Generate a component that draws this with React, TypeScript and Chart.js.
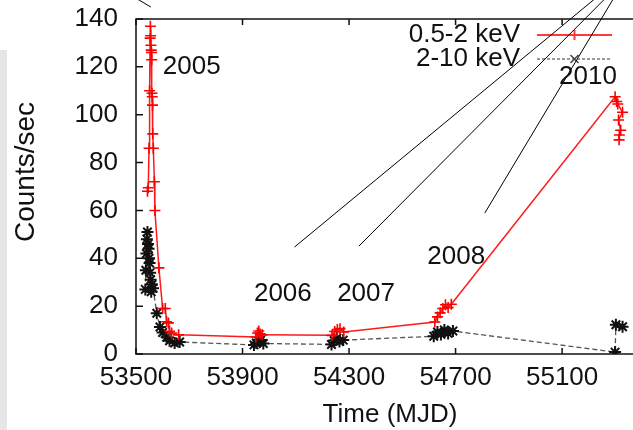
import { useEffect, useRef } from "react";
import { Chart, registerables } from "chart.js";

Chart.register(...registerables);

const FONT = "'Liberation Sans', Arial, Helvetica, sans-serif";
const FONT_SIZE = 26;
const INK = "#111111";

// 0.5-2 keV light curve (MJD, counts/sec)
const softMjd = [
  53543, 53546, 53549, 53551, 53553, 53554, 53555, 53556, 53557, 53558, 53559, 53560, 53561,
  53562, 53563, 53565, 53569, 53571, 53586, 53600, 53610, 53615, 53622, 53626, 53634, 53660,
  53950, 53956, 53961, 53966, 53974,
  54236, 54246, 54256, 54266, 54280,
  54622, 54632, 54642, 54652, 54662, 54672, 54684,
  55299, 55305, 55309, 55327, 55312, 55320, 55315, 55314,
];
const softRate = [
  68, 69.5, 86, 110, 132, 137, 133, 129, 127, 126, 123, 109, 107.5,
  104, 92, 86, 72, 60, 36, 19, 19, 13.5, 13, 9.5, 8.8, 8,
  7.1, 8.8, 9.6, 8.4, 8.0,
  7.8, 9.4, 10.2, 10.6, 9.2,
  13.4, 15.5, 17.2, 19.0, 20.6, 19.4, 20.8,
  107.5, 105.5, 104.5, 101, 97.8, 93.5, 91.5, 89.5,
];

// 2-10 keV light curve (MJD, counts/sec)
const hardMjd = [
  53535, 53537, 53539, 53541, 53543, 53545, 53547, 53549, 53551, 53553, 53555, 53557, 53560,
  53564, 53578, 53590, 53600, 53615, 53626, 53645, 53664,
  53943, 53952, 53960, 53968, 53978,
  54234, 54244, 54254, 54264, 54278,
  54618, 54632, 54645, 54658, 54672, 54690,
  55299, 55302, 55327,
];
const hardRate = [
  27, 35, 42, 48, 51, 46, 44, 40, 38, 34, 31, 26, 29,
  27.5, 17, 11.3, 9, 7, 5.5, 4.6, 5,
  3.8, 4.6, 5.4, 5.8, 4.4,
  4.0, 5.6, 6.6, 5.2, 5.8,
  7.4, 9.2, 8.2, 10.0, 8.6, 9.6,
  0.8, 12.2, 11.4,
];

const xTickValues = [53500, 53900, 54300, 54700, 55100];
const yTickValues = [0, 20, 40, 60, 80, 100, 120, 140];

const seriesLabels = ["0.5-2 keV", "2-10 keV"];

// epoch labels, placed in data units (left edge, vertical centre)
const epochText = ["2005", "2006", "2007", "2008", "2010"];
const epochMjd = [53600.5, 53942.8, 54255.3, 54594, 55088.8];
const epochRate = [120.1, 25.1, 25.1, 40.5, 115.8];

// pointer lines running from the epochs up out of the frame
const pointerFromMjd = [53555.8, 54095.3, 54337.2, 54809.8];
const pointerFromRate = [145.0, 44.7, 45.1, 58.9];
const pointerToMjd = [53421.9, 55308.4, 55330.7, 55334.8];
const pointerToRate = [153.8, 156.3, 156.3, 156.3];

const font = (size = FONT_SIZE) => `${size}px ${FONT}`;

const decorPlugin = {
  id: "frameDecor",
  afterDraw(chart: any) {
    const { ctx, chartArea: a, scales } = chart;
    const xs = scales.x;
    const ys = scales.y;
    ctx.save();

    // frame
    ctx.strokeStyle = INK;
    ctx.lineWidth = 1.5;
    ctx.strokeRect(a.left, a.top, a.right - a.left, a.bottom - a.top);

    // inward ticks on all four sides
    ctx.beginPath();
    xTickValues.forEach((v) => {
      const px = xs.getPixelForValue(v);
      ctx.moveTo(px, a.bottom);
      ctx.lineTo(px, a.bottom - 6);
      ctx.moveTo(px, a.top);
      ctx.lineTo(px, a.top + 6);
    });
    yTickValues.forEach((v) => {
      const py = ys.getPixelForValue(v);
      ctx.moveTo(a.left, py);
      ctx.lineTo(a.left + 7, py);
      ctx.moveTo(a.right, py);
      ctx.lineTo(a.right - 7, py);
    });
    ctx.stroke();

    // epoch labels
    ctx.fillStyle = INK;
    ctx.font = font();
    ctx.textAlign = "left";
    ctx.textBaseline = "middle";
    epochText.forEach((t, i) => {
      ctx.fillText(t, xs.getPixelForValue(epochMjd[i]), ys.getPixelForValue(epochRate[i]));
    });

    // key
    const keyRight = a.left + 384;
    const sampleL = a.left + 401;
    const sampleR = a.left + 476;
    const sampleMid = (sampleL + sampleR) / 2;
    const row1 = a.top + 16;
    const row2 = a.top + 40;
    ctx.textAlign = "right";
    ctx.fillText(seriesLabels[0], keyRight, row1);
    ctx.fillText(seriesLabels[1], keyRight, row2);

    ctx.strokeStyle = "#ff3a3a";
    ctx.lineWidth = 2;
    ctx.beginPath();
    ctx.moveTo(sampleL, row1);
    ctx.lineTo(sampleR, row1);
    ctx.moveTo(sampleMid, row1 - 5);
    ctx.lineTo(sampleMid, row1 + 5);
    ctx.stroke();

    ctx.strokeStyle = "#9a9a9a";
    ctx.setLineDash([3, 2]);
    ctx.beginPath();
    ctx.moveTo(sampleL, row2);
    ctx.lineTo(sampleR, row2);
    ctx.stroke();
    ctx.setLineDash([]);
    ctx.strokeStyle = "#444";
    ctx.lineWidth = 1.5;
    ctx.beginPath();
    ctx.moveTo(sampleMid - 4, row2 - 4);
    ctx.lineTo(sampleMid + 4, row2 + 4);
    ctx.moveTo(sampleMid - 4, row2 + 4);
    ctx.lineTo(sampleMid + 4, row2 - 4);
    ctx.stroke();

    // pointer lines
    ctx.strokeStyle = "#000";
    ctx.lineWidth = 1;
    ctx.beginPath();
    pointerFromMjd.forEach((m, i) => {
      ctx.moveTo(xs.getPixelForValue(m), ys.getPixelForValue(pointerFromRate[i]));
      ctx.lineTo(xs.getPixelForValue(pointerToMjd[i]), ys.getPixelForValue(pointerToRate[i]));
    });
    ctx.stroke();

    // axis titles
    ctx.fillStyle = INK;
    ctx.font = font();
    ctx.textAlign = "center";
    ctx.textBaseline = "middle";
    ctx.fillText("Time (MJD)", 390, 415);
    ctx.font = font(28);
    ctx.translate(26, 172);
    ctx.rotate(-Math.PI / 2);
    ctx.fillText("Counts/sec", 0, 0);

    ctx.restore();
  },
};

export default function App() {
  const ref = useRef<HTMLCanvasElement | null>(null);

  useEffect(() => {
    if (!ref.current) return;
    const chart = new Chart(ref.current, {
      type: "line",
      data: {
        datasets: [
          {
            label: seriesLabels[0],
            data: softMjd.map((x, i) => ({ x, y: softRate[i] })),
            borderColor: "#ff1a1a",
            borderWidth: 1.5,
            pointStyle: "cross",
            pointRadius: 5.5,
            pointBorderColor: "#ff0000",
            pointBorderWidth: 1.6,
            tension: 0,
            fill: false,
          },
          {
            label: seriesLabels[1],
            data: hardMjd.map((x, i) => ({ x, y: hardRate[i] })),
            borderColor: "#555555",
            borderWidth: 1.3,
            borderDash: [5, 3],
            pointStyle: "star",
            pointRadius: 6,
            pointBorderColor: "#111111",
            pointBorderWidth: 2,
            tension: 0,
            fill: false,
          },
        ],
      },
      options: {
        responsive: false,
        devicePixelRatio: 1,
        animation: false,
        layout: { padding: { top: 19, right: 3.4, left: 0, bottom: 0 } },
        plugins: { legend: { display: false }, tooltip: { enabled: false } },
        scales: {
          x: {
            type: "linear",
            min: 53500,
            max: 55400,
            afterBuildTicks: (s: any) => {
              s.ticks = xTickValues.map((value) => ({ value }));
            },
            afterFit: (s: any) => {
              s.height = 76;
              s.paddingLeft = 0;
              s.paddingRight = 0;
              s.paddingTop = 0;
              s.paddingBottom = 0;
            },
            grid: { display: false, drawTicks: false },
            border: { display: false },
            ticks: {
              padding: 8,
              autoSkip: false,
              maxRotation: 0,
              color: INK,
              font: { family: FONT, size: FONT_SIZE },
              callback: (v: any) => String(v),
            },
          },
          y: {
            type: "linear",
            min: 0,
            max: 140,
            afterBuildTicks: (s: any) => {
              s.ticks = yTickValues.map((value) => ({ value }));
            },
            afterFit: (s: any) => {
              s.width = 136;
              s.paddingLeft = 0;
              s.paddingRight = 0;
              s.paddingTop = 0;
              s.paddingBottom = 0;
            },
            grid: { display: false, drawTicks: false },
            border: { display: false },
            ticks: {
              padding: 18,
              color: INK,
              font: { family: FONT, size: FONT_SIZE },
              callback: (v: any) => String(v),
            },
          },
        },
      },
      plugins: [decorPlugin],
    });
    return () => chart.destroy();
  }, []);

  return (
    <div
      style={{
        position: "fixed",
        left: 0,
        top: 0,
        width: 633,
        height: 430,
        overflow: "hidden",
        background: "#ffffff",
      }}
    >
      <div
        style={{
          position: "absolute",
          left: 0,
          top: 50,
          width: 7,
          height: 380,
          background: "#e6e6e6",
        }}
      />
      <canvas
        ref={ref}
        width={650}
        height={430}
        style={{ position: "absolute", left: 0, top: 0, width: 650, height: 430 }}
      />
    </div>
  );
}
